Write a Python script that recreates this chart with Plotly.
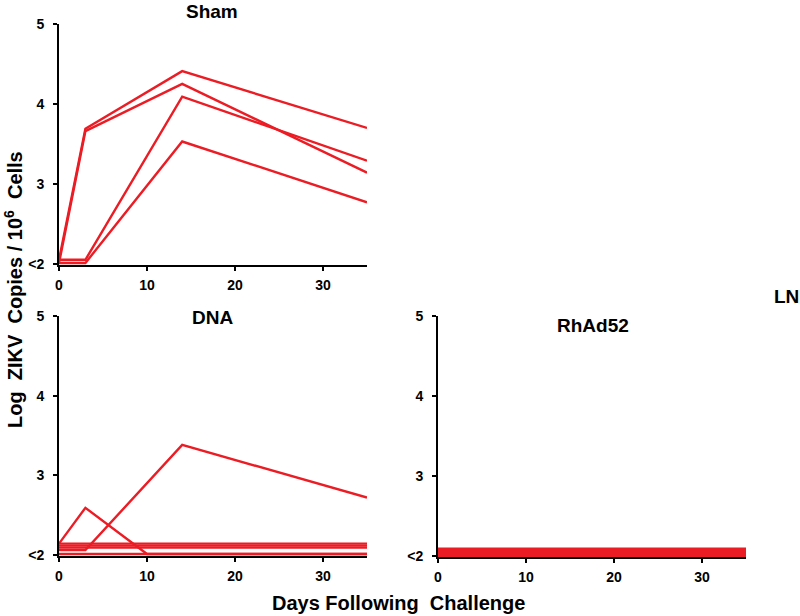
import plotly.graph_objects as go

# ---- data ----
days_sham = [0, 3, 14, 35]
sham_a = [2.05, 3.69, 4.41, 3.70]
sham_b = [2.01, 3.66, 4.25, 3.14]
sham_c = [2.05, 2.05, 4.09, 3.29]
sham_d = [2.01, 2.01, 3.53, 2.77]

dna_rise_days = [0, 3, 14, 35]
dna_rise = [2.06, 2.06, 3.38, 2.72]
dna_peak_days = [0, 3, 10, 35]
dna_peak = [2.14, 2.59, 2.01, 2.01]
dna_flat_days = [0, 35]
dna_flat_1 = [2.09, 2.09]
dna_flat_2 = [2.115, 2.115]
dna_flat_3 = [2.14, 2.14]
dna_flat_4 = [2.01, 2.01]

rh_days = [0, 35]
rh_1 = [2.0, 2.0]
rh_2 = [2.025, 2.025]
rh_3 = [2.05, 2.05]
rh_4 = [2.075, 2.075]
rh_5 = [2.09, 2.09]

ytick_vals = [2, 3, 4, 5]
ytick_text = ["<2", "3", "4", "5"]
xtick_vals = [0, 10, 20, 30]

RED = "rgb(236,28,36)"
FONT = "Liberation Sans, Arial, sans-serif"

W, H = 800, 616

fig = go.Figure()

def add(x, y, xa, ya):
    fig.add_trace(go.Scatter(x=x, y=y, mode="lines", xaxis=xa, yaxis=ya,
                             line=dict(color=RED, width=2.4), showlegend=False,
                             hoverinfo="skip"))

for s in [sham_a, sham_b, sham_c, sham_d]:
    add(days_sham, s, "x", "y")

for s in [dna_flat_1, dna_flat_2, dna_flat_3, dna_flat_4]:
    add(dna_flat_days, s, "x2", "y2")
add(dna_peak_days, dna_peak, "x2", "y2")
add(dna_rise_days, dna_rise, "x2", "y2")

for s in [rh_1, rh_2, rh_3, rh_4, rh_5]:
    add(rh_days, s, "x3", "y3")

def xd(a, b):
    return [a / W, b / W]

def yd(top, bottom):
    return [(H - bottom) / H, (H - top) / H]

xcommon = dict(range=[0, 35], tickvals=xtick_vals, showgrid=False, zeroline=False,
               showline=True, linecolor="black", linewidth=2, ticks="outside",
               ticklen=4, tickwidth=2, tickcolor="black", automargin=False,
               ticklabelstandoff=2,
               tickfont=dict(family=FONT, size=14, color="black", weight="bold"))
ycommon = dict(range=[1.985, 5], tickvals=ytick_vals, ticktext=ytick_text, showgrid=False,
               zeroline=False, showline=True, linecolor="black", linewidth=2,
               ticks="outside", ticklen=4, tickwidth=2, tickcolor="black",
               automargin=False, ticklabelstandoff=6,
               tickfont=dict(family=FONT, size=14, color="black", weight="bold"))

fig.update_layout(
    width=W, height=H,
    margin=dict(l=0, r=0, t=0, b=0),
    paper_bgcolor="white", plot_bgcolor="white",
    xaxis=dict(domain=xd(59, 367), anchor="y", **xcommon),
    yaxis=dict(domain=yd(24, 265), anchor="x", **ycommon),
    xaxis2=dict(domain=xd(59, 367), anchor="y2", **xcommon),
    yaxis2=dict(domain=yd(316, 556), anchor="x2", **ycommon),
    xaxis3=dict(domain=xd(438, 746), anchor="y3", **xcommon),
    yaxis3=dict(domain=yd(316, 557), anchor="x3", **ycommon),
)

def ann(text, x, y, size, angle=0):
    fig.add_annotation(text=text, x=x / W, y=(H - y) / H,
                       xref="paper", yref="paper",
                       showarrow=False, textangle=angle, xanchor="center", yanchor="middle",
                       font=dict(family=FONT, size=size, color="black", weight="bold"))

NB = "\u00a0"
ann("Sham", 212, 11, 19)
ann("DNA", 212, 318, 19)
ann("RhAd52", 593, 325, 19)
ann("LN", 786, 296, 19)
ann("Days Following" + NB + NB + "Challenge", 398, 603, 20)
ann("Log" + NB + NB + "ZIKV" + NB + NB + "Copies" + NB + "/" + NB + "10<sup>6</sup>" + NB + NB + "Cells",
    13, 290, 20, angle=-90)

# remove the browser's default 8px body margin so the figure fills the window exactly
fig.write_html("out.html", config={"displayModeBar": False},
               post_script="document.body.style.margin='0';")
